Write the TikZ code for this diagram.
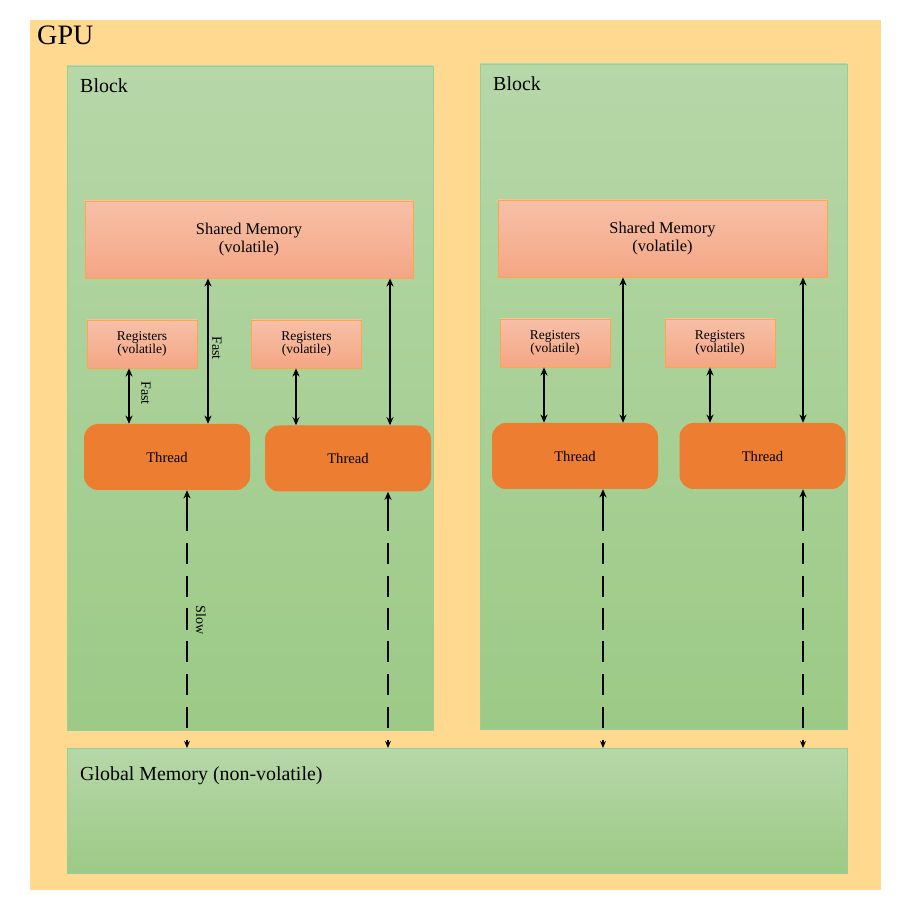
\documentclass[tikz,border=0pt]{standalone}
\usepackage{fontspec}
\setmainfont{Liberation Serif}
\usetikzlibrary{arrows.meta}
\begin{document}
\begin{tikzpicture}[x=0.03cm,y=-0.03cm,
  box/.style={draw=none,anchor=north west,inner sep=0},
  blk/.style={draw=green!50!black!40,top color=blkt,bottom color=blkb,line width=0.6pt},
  sm/.style={draw=orange!70,top color=smt,bottom color=smb,line width=0.6pt,align=center,font=\fontsize{14}{15}\selectfont},
  reg/.style={draw=orange!70,top color=smt,bottom color=smb,line width=0.6pt,align=center,font=\fontsize{11.5}{11}\selectfont},
  thr/.style={fill=thrc,draw=none,rounded corners=12pt,font=\fontsize{12.5}{14}\selectfont},
  fast/.style={line width=1.6pt,{Stealth[length=7pt,width=6pt]}-{Stealth[length=7pt,width=6pt]}},
  slow/.style={line width=1.6pt,dash pattern=on 18pt off 10pt,-{Stealth[length=6pt,width=5pt]}},
  lab/.style={font=\fontsize{12}{12}\selectfont,rotate=-90}]
\definecolor{gpuc}{HTML}{FFD98F}
\definecolor{blkt}{HTML}{B6D7A8}
\definecolor{blkb}{HTML}{9CCA86}
\definecolor{smt}{HTML}{F7C0A8}
\definecolor{smb}{HTML}{F4A684}
\definecolor{thrc}{HTML}{ED7D31}
\fill[white] (0,0) rectangle (913,906);
\fill[gpuc] (30,20) rectangle (881,890);
\node[anchor=north west,inner sep=0,font=\fontsize{24}{24}\selectfont] (gpu) at (37,26) {GPU};
% blocks
\draw[blk] (67,66) rectangle (433,730);
\draw[blk] (480,64) rectangle (847,729);
\node[anchor=north west,inner sep=0,font=\fontsize{17}{17}\selectfont] (b1) at (80,78) {Block};
\node[anchor=north west,inner sep=0,font=\fontsize{17}{17}\selectfont] (b2) at (493,76) {Block};
% global
\draw[blk] (67,748) rectangle (847,873);
\node[anchor=north west,inner sep=0,font=\fontsize{17}{17}\selectfont] (gm) at (80,766) {Global Memory (non-volatile)};
\coordinate (glob) at (0,748);
% shared memories
\node[sm,minimum width=328*0.03cm,minimum height=77*0.03cm] (sm1) at (249,239.5) {Shared Memory\\(volatile)};
\node[sm,minimum width=329*0.03cm,minimum height=77*0.03cm] (sm2) at (662.5,238.5) {Shared Memory\\(volatile)};
% registers
\foreach \n/\x/\y in {1/142/344,2/306.5/344,3/555/343,4/720/343}
  \node[reg,minimum width=110*0.03cm,minimum height=48*0.03cm] (r\n) at (\x,\y) {Registers\\(volatile)};
% threads
\foreach \n/\x/\y in {1/167/457,2/348/458.5,3/575/456,4/762.5/456}
  \node[thr,minimum width=166*0.03cm,minimum height=66*0.03cm] (t\n) at (\x,\y) {Thread};
% reg-thread arrows
\foreach \n/\x in {1/129,2/296,3/544,4/710}
  \draw[fast] (r\n.south -| \x,0) -- (t\n.north -| \x,0);
% shared-thread arrows
\draw[fast] (sm1.south -| 208,0) -- (t1.north -| 208,0);
\draw[fast] (sm1.south -| 390,0) -- (t2.north -| 390,0);
\draw[fast] (sm2.south -| 623,0) -- (t3.north -| 623,0);
\draw[fast] (sm2.south -| 803,0) -- (t4.north -| 803,0);
% slow dashed
\foreach \n/\x in {1/187,2/388,3/603,4/803}{
  \draw[line width=1.6pt,-{Stealth[length=7pt,width=6pt]}] (\x,510) -- (t\n.south -| \x,0);
  \draw[slow] (\x,510) -- (glob -| \x,0);
}
\node[lab] (f1) at (146,393) {Fast};
\node[lab] (f2) at (217,348) {Fast};
\node[lab] (s1) at (201,620) {Slow};
\end{tikzpicture}
\end{document}
